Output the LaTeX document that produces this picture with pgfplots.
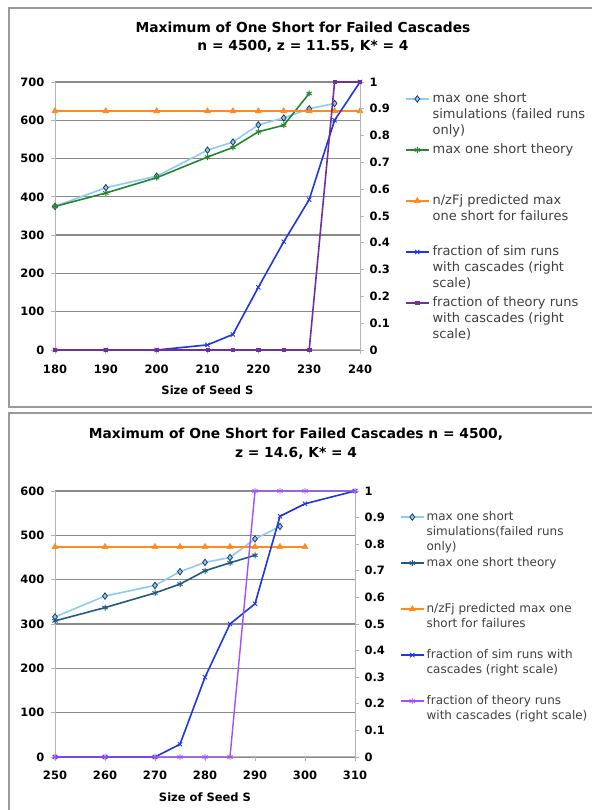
\documentclass[border=0pt]{standalone}
\usepackage{fontspec}
\setmainfont{DejaVu Sans}
\usepackage{pgfplots}
\pgfplotsset{compat=1.18}
\definecolor{skyb}{HTML}{8CCBF5}
\definecolor{skyedge}{HTML}{1F3A5F}
\definecolor{grn}{HTML}{24862F}
\definecolor{orng}{HTML}{FF8A1E}
\definecolor{blu}{HTML}{1E37E6}
\definecolor{purp}{HTML}{7030A0}
\definecolor{vio}{HTML}{A050FF}
\definecolor{navyb}{HTML}{1F5A85}
\definecolor{gridc}{HTML}{8A8A8A}
\definecolor{axc}{HTML}{B4B4B4}
\definecolor{framec}{HTML}{9A9A9A}
\definecolor{legtext}{HTML}{404040}
\pgfplotsset{
  excelbase/.style={
    scale only axis, clip=false,
    /pgf/number format/assume math mode=true,
    tick label style={font=\fontsize{11.5bp}{12bp}\selectfont\bfseries},
    axis line style={axc, line width=1bp},
    major tick style={axc, line width=0.8bp},
    major tick length=4bp,
    tick align=outside,
    every axis plot/.append style={line width=1.6bp},
  },
  legimg/.style={legend image code/.code={\draw[mark repeat=2,mark phase=2] plot coordinates {(0bp,#1)(11.5bp,#1)(23bp,#1)};}},
  sA/.style={skyb, line width=1.6bp, mark=diamond*, mark size=3.2bp, mark options={fill=skyb, draw=skyedge, line width=0.8bp}},
  sBg/.style={grn, line width=1.6bp, mark=asterisk, mark size=3bp, mark options={line width=1bp}},
  sBn/.style={navyb, line width=1.6bp, mark=asterisk, mark size=3bp, mark options={line width=1bp}},
  sC/.style={orng, line width=1.6bp, mark=triangle*, mark size=3.5bp, mark options={line width=0.5bp}},
  sD/.style={blu, line width=1.6bp, mark=x, mark size=3bp, mark options={line width=0.9bp}},
  sEp/.style={purp, line width=1.6bp, mark=square*, mark size=1.6bp, mark options={line width=0.5bp}},
  sEv/.style={vio, line width=1.4bp, mark=asterisk, mark size=3bp, mark options={line width=0.9bp}},
}
\begin{document}
\begin{tikzpicture}[x=1bp,y=1bp]
\useasboundingbox (0,0) rectangle (592,810);
\fill[white] (0,0) rectangle (592,810);
\draw[framec, line width=1.5bp] (9,403) rectangle (640,802);
\draw[framec, line width=1.5bp] (9,-20) rectangle (640,397);
% titles
\node[font=\fontsize{13.8bp}{16bp}\selectfont\bfseries, anchor=base] at (303,777) {Maximum of One Short for Failed Cascades};
\node[font=\fontsize{13.8bp}{16bp}\selectfont\bfseries, anchor=base] at (303,759) {n = 4500, z = 11.55, K* = 4};
\node[font=\fontsize{13.8bp}{16bp}\selectfont\bfseries, anchor=base] at (296,371) {Maximum of One Short for Failed Cascades n = 4500,};
\node[font=\fontsize{13.8bp}{16bp}\selectfont\bfseries, anchor=base] at (296,352) {z = 14.6, K* = 4};

% ---------------- top chart ----------------
\begin{axis}[excelbase, at={(55bp,460bp)}, anchor=south west, width=305bp, height=268bp,
  xmin=180, xmax=240, ymin=0, ymax=700,
  xtick={180,190,200,210,220,230,240}, ytick={0,100,200,300,400,500,600,700},
  axis x line*=bottom, axis y line*=left,
  ymajorgrids, grid style={gridc, line width=1.3bp},
  xticklabel style={yshift=-7bp}, yticklabel style={xshift=-3bp},
  xlabel={Size of Seed S},
  every axis x label/.style={at={(axis description cs:0.5,0)}, anchor=center, yshift=-40bp, font=\fontsize{11.5bp}{12bp}\selectfont\bfseries},
]
\addplot[sA] coordinates {(180,375)(190,424)(200,454)(210,522)(215,543)(220,588)(225,606)(230,630)(235,644)};
\addplot[sBg] coordinates {(180,375)(190,410)(200,450)(210,504)(215,529)(220,570)(225,587)(230,670)};
\addplot[sC] coordinates {(180,624)(190,624)(200,624)(210,624)(215,624)(220,624)(225,624)(230,624)(235,624)(240,624)};
\end{axis}
\begin{axis}[excelbase, at={(55bp,460bp)}, anchor=south west, width=305bp, height=268bp,
  xmin=180, xmax=240, ymin=0, ymax=1,
  axis x line=none, axis y line*=right,
  ytick={0,0.1,0.2,0.3,0.4,0.5,0.6,0.7,0.8,0.9,1},
  yticklabel style={anchor=west, xshift=2bp},
  legimg=3.6bp,
  legend cell align=left,
  legend style={draw=none, fill=none, inner sep=0pt, outer sep=0pt, row sep=0pt, column sep=3bp,
    font=\fontsize{13bp}{16bp}\selectfont, text=legtext,
    nodes={inner sep=0pt, text depth=},
    cells={anchor=base west},
    at={(axis description cs:1.1475,0.965)}, anchor=north west},
]
\addlegendimage{sA}
\addlegendentry{\parbox[t][51bp][t]{175bp}{\strut max one short\\simulations (failed runs\\only)}}
\addlegendimage{sBg}
\addlegendentry{\parbox[t][51bp][t]{175bp}{\strut max one short theory}}
\addlegendimage{sC}
\addlegendentry{\parbox[t][51bp][t]{175bp}{\strut n/zFj predicted max\\one short for failures}}
\addplot[sD] coordinates {(180,0)(190,0)(200,0)(210,0.019)(215,0.058)(220,0.234)(225,0.404)(230,0.561)(235,0.857)(240,1)};
\addlegendentry{\parbox[t][51bp][t]{175bp}{\strut fraction of sim runs\\with cascades (right\\scale)}}
\addplot[sEp] coordinates {(180,0)(190,0)(200,0)(210,0)(215,0)(220,0)(225,0)(230,0)(235,1)(240,1)};
\addlegendentry{\parbox[t][51bp][t]{175bp}{\strut fraction of theory runs\\with cascades (right\\scale)}}
\end{axis}

% ---------------- bottom chart ----------------
\begin{axis}[excelbase, at={(55bp,53bp)}, anchor=south west, width=300bp, height=266bp,
  xmin=250, xmax=310, ymin=0, ymax=600,
  xtick={250,260,270,280,290,300,310}, ytick={0,100,200,300,400,500,600},
  axis x line*=bottom, axis y line*=left,
  ymajorgrids, grid style={gridc, line width=1.3bp},
  xticklabel style={yshift=-6bp}, yticklabel style={xshift=-3bp},
  xlabel={Size of Seed S},
  every axis x label/.style={at={(axis description cs:0.5,0)}, anchor=center, yshift=-40bp, font=\fontsize{11.5bp}{12bp}\selectfont\bfseries},
]
\addplot[sA] coordinates {(250,316)(260,363)(270,387)(275,418)(280,439)(285,450)(290,492)(295,520)};
\addplot[sBn] coordinates {(250,307)(260,337)(270,370)(275,390)(280,420)(285,438)(290,455)};
\addplot[sC] coordinates {(250,474)(260,474)(270,474)(275,474)(280,474)(285,474)(290,474)(295,474)(300,474)};
\end{axis}
\begin{axis}[excelbase, at={(55bp,53bp)}, anchor=south west, width=300bp, height=266bp,
  xmin=250, xmax=310, ymin=0, ymax=1,
  axis x line=none, axis y line*=right,
  ytick={0,0.1,0.2,0.3,0.4,0.5,0.6,0.7,0.8,0.9,1},
  yticklabel style={anchor=west, xshift=2bp},
  legimg=3.3bp,
  legend cell align=left,
  legend style={draw=none, fill=none, inner sep=0pt, outer sep=0pt, row sep=0pt, column sep=2bp,
    font=\fontsize{12bp}{15bp}\selectfont, text=legtext,
    nodes={inner sep=0pt, text depth=},
    cells={anchor=base west},
    at={(axis description cs:1.15,0.929)}, anchor=north west},
]
\addlegendimage{sA}
\addlegendentry{\parbox[t][46bp][t]{175bp}{\strut max one short\\simulations(failed runs\\only)}}
\addlegendimage{sBn}
\addlegendentry{\parbox[t][46bp][t]{175bp}{\strut max one short theory}}
\addlegendimage{sC}
\addlegendentry{\parbox[t][46bp][t]{175bp}{\strut n/zFj predicted max one\\short for failures}}
\addplot[sD] coordinates {(250,0)(260,0)(270,0)(275,0.048)(280,0.30)(285,0.50)(290,0.576)(295,0.905)(300,0.952)(310,1)};
\addlegendentry{\parbox[t][46bp][t]{175bp}{\strut fraction of sim runs with\\cascades (right scale)}}
\addplot[sEv] coordinates {(250,0)(260,0)(270,0)(275,0)(280,0)(285,0)(290,1)(295,1)(300,1)(310,1)};
\addlegendentry{\parbox[t][46bp][t]{175bp}{\strut fraction of theory runs\\with cascades (right scale)}}
\end{axis}
\end{tikzpicture}
\end{document}
